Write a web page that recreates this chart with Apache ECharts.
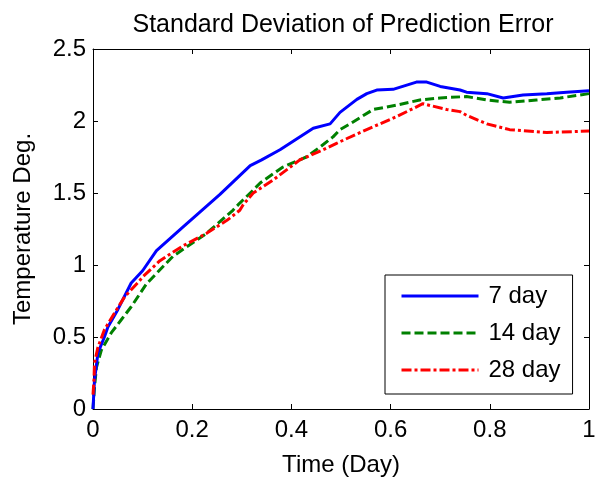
<!DOCTYPE html>
<html>
<head>
<meta charset="utf-8">
<script src="https://cdn.jsdelivr.net/npm/echarts@6/dist/echarts.min.js"></script>
<style>html,body{margin:0;padding:0;background:#fff}#c{width:597px;height:477px}</style>
</head>
<body>
<div id="c"></div>
<script>
var xTicks = [0, 0.2, 0.4, 0.6, 0.8, 1];
var yTicks = [0, 0.5, 1, 1.5, 2, 2.5];
var seriesNames = ['7 day', '14 day', '28 day'];

var time7 = [0, 0.003, 0.01, 0.023, 0.03, 0.05, 0.077, 0.1, 0.128, 0.18, 0.256, 0.317, 0.34, 0.377, 0.444, 0.478, 0.498, 0.532, 0.552, 0.572, 0.605, 0.652, 0.673, 0.70, 0.74, 0.753, 0.794, 0.827, 0.867, 0.915, 0.955, 1.0];
var std7 = [0, 0.2, 0.39, 0.5, 0.57, 0.69, 0.875, 0.96, 1.10, 1.26, 1.49, 1.69, 1.73, 1.80, 1.95, 1.98, 2.06, 2.15, 2.19, 2.215, 2.22, 2.27, 2.27, 2.24, 2.215, 2.20, 2.19, 2.16, 2.18, 2.19, 2.20, 2.21];

var time14 = [0, 0.003, 0.007, 0.017, 0.037, 0.057, 0.077, 0.108, 0.161, 0.229, 0.282, 0.296, 0.323, 0.337, 0.383, 0.43, 0.458, 0.484, 0.498, 0.518, 0.565, 0.612, 0.659, 0.70, 0.753, 0.794, 0.84, 0.894, 0.942, 1.0];
var std14 = [0, 0.15, 0.29, 0.41, 0.53, 0.62, 0.71, 0.87, 1.06, 1.22, 1.38, 1.43, 1.52, 1.57, 1.68, 1.75, 1.82, 1.89, 1.94, 1.98, 2.08, 2.11, 2.146, 2.16, 2.17, 2.146, 2.13, 2.146, 2.16, 2.19];

var time28 = [0, 0.002, 0.003, 0.01, 0.023, 0.044, 0.064, 0.091, 0.101, 0.135, 0.18, 0.229, 0.27, 0.296, 0.303, 0.323, 0.363, 0.417, 0.464, 0.491, 0.532, 0.565, 0.612, 0.665, 0.713, 0.74, 0.753, 0.794, 0.84, 0.915, 1.0];
var std28 = [0.1, 0.2, 0.32, 0.43, 0.55, 0.67, 0.78, 0.88, 0.92, 1.03, 1.13, 1.22, 1.31, 1.38, 1.42, 1.50, 1.59, 1.73, 1.80, 1.845, 1.91, 1.96, 2.03, 2.12, 2.08, 2.065, 2.04, 1.98, 1.94, 1.92, 1.93];

function pairs(t, v) { return t.map(function (x, i) { return [x, v[i]]; }); }

var FONT = 'Liberation Sans, Arial, Helvetica, sans-serif';
var chart = echarts.init(document.getElementById('c'), null, { renderer: 'canvas' });

var hiddenAxisCommon = {
  axisLine: { show: true, onZero: false, lineStyle: { color: '#000', width: 1 } },
  axisTick: { show: true, inside: true, length: 5, lineStyle: { color: '#000' } },
  axisLabel: { show: false },
  splitLine: { show: false }
};

chart.setOption({
  animation: false,
  backgroundColor: '#fff',
  title: {
    text: 'Standard Deviation of Prediction Error',
    left: 338, top: 8, textAlign: 'center',
    textStyle: { fontFamily: FONT, fontSize: 25, fontWeight: 'normal', color: '#000' }
  },
  grid: { left: 93, top: 49, width: 496, height: 360, containLabel: false, outerBoundsMode: 'none' },
  xAxis: [{
    type: 'value', min: 0, max: 1, interval: 0.2, position: 'bottom',
    name: 'Time (Day)', nameLocation: 'middle', nameGap: 44,
    nameTextStyle: { fontFamily: FONT, fontSize: 24, color: '#000' },
    axisLine: { show: true, onZero: false, lineStyle: { color: '#000', width: 1 } },
    axisTick: { show: true, inside: true, length: 5, lineStyle: { color: '#000' } },
    axisLabel: { fontFamily: FONT, fontSize: 24, color: '#000', margin: 9,
      formatter: function (v) { var r = Math.round(v * 10) / 10; return xTicks.indexOf(r) >= 0 ? String(r) : ''; } },
    splitLine: { show: false }
  }, Object.assign({ type: 'value', min: 0, max: 1, interval: 0.2, position: 'top' }, hiddenAxisCommon)],
  yAxis: [{
    type: 'value', min: 0, max: 2.5, interval: 0.5, position: 'left',
    name: 'Temperature Deg.', nameLocation: 'middle', nameGap: 58,
    nameTextStyle: { fontFamily: FONT, fontSize: 24, color: '#000' },
    axisLine: { show: true, onZero: false, lineStyle: { color: '#000', width: 1 } },
    axisTick: { show: true, inside: true, length: 5, lineStyle: { color: '#000' } },
    axisLabel: { fontFamily: FONT, fontSize: 24, color: '#000', margin: 7 },
    splitLine: { show: false }
  }, Object.assign({ type: 'value', min: 0, max: 2.5, interval: 0.5, position: 'right' }, hiddenAxisCommon)],
  legend: {
    orient: 'vertical', left: 385, top: 275,
    backgroundColor: '#fff', borderColor: '#000', borderWidth: 1, borderRadius: 0,
    padding: [9, 12, 12, 15], itemGap: 13, itemWidth: 77, itemHeight: 14,
    itemStyle: { opacity: 0 },
    lineStyle: { width: 3 },
    textStyle: { fontFamily: FONT, fontSize: 24, color: '#000', padding: [0, 0, 0, 5] },
    data: seriesNames
  },
  series: [
    { name: seriesNames[0], type: 'line', symbol: 'none', data: pairs(time7, std7),
      lineStyle: { color: '#0000ff', width: 3, type: 'solid' }, itemStyle: { color: '#0000ff' }, z: 3 },
    { name: seriesNames[1], type: 'line', symbol: 'none', data: pairs(time14, std14),
      lineStyle: { color: '#008000', width: 3, type: [9, 4] }, itemStyle: { color: '#008000' }, z: 2 },
    { name: seriesNames[2], type: 'line', symbol: 'none', data: pairs(time28, std28),
      lineStyle: { color: '#ff0000', width: 3, type: [10, 3, 3, 3] }, itemStyle: { color: '#ff0000' }, z: 4 }
  ]
});
</script>
</body>
</html>
